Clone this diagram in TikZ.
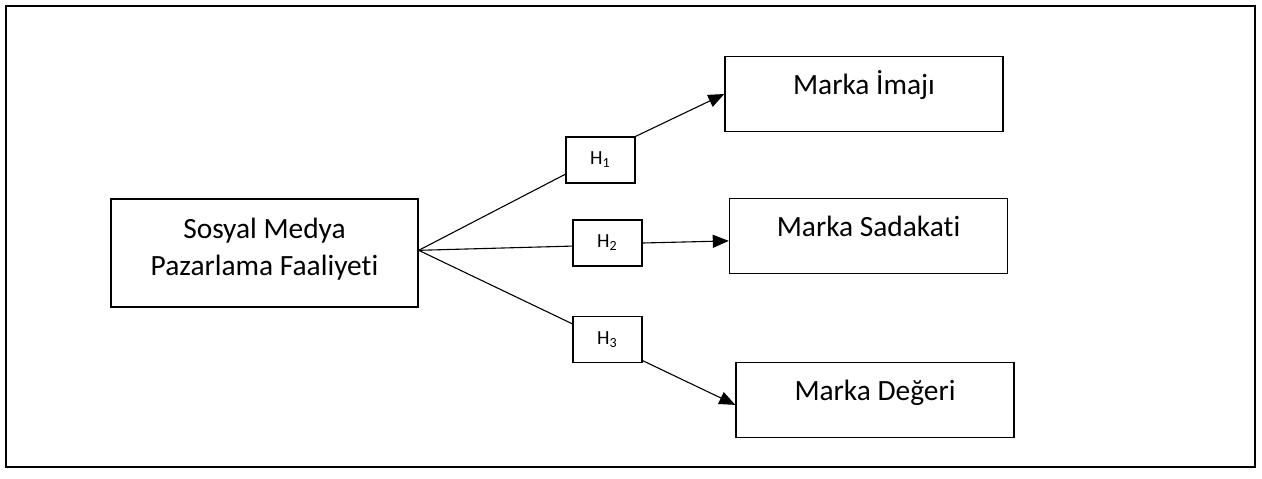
\documentclass[tikz,border=0pt]{standalone}
\usepackage{fontspec}
\setmainfont{Carlito}[Ligatures=NoCommon]
\usepackage{tikz}
\usetikzlibrary{arrows.meta,positioning}
\tikzset{
  flow/.style={-{Triangle[length=8pt,width=6.5pt]},line width=0.55pt,draw=black},
  wire/.style={line width=0.55pt,draw=black},
  factor/.style={draw=black,line width=0.7pt,align=center,minimum width=153.5pt,minimum height=54pt,inner sep=0pt,font=\fontsize{14.7}{18.5}\selectfont,text height=27pt,text depth=5pt},
  hyp/.style={draw=black,line width=0.65pt,minimum width=34.5pt,minimum height=23pt,inner sep=0pt,font=\fontsize{10}{12}\selectfont},
  outcome/.style={draw=black,line width=0.7pt,minimum width=139pt,minimum height=37.5pt,inner sep=0pt,font=\fontsize{14.7}{18}\selectfont,text height=10pt,text depth=10pt},
  frame/.style={draw=black,line width=1pt}
}
\begin{document}
\begin{tikzpicture}[x=0.5pt,y=-0.5pt]
  \useasboundingbox (0,0) rectangle (1262,478);
  \draw[frame] (6,6) rectangle (1255,467);
  \node[factor] (smm) at (264.5,253) {Sosyal Medya\\Pazarlama Faaliyeti};
  \node[hyp] (h1) at (600.5,160) {H\textsubscript{1}};
  \node[hyp] (h2) at (607.5,243) {H\textsubscript{2}};
  \node[hyp] (h3) at (607.5,339.5) {H\textsubscript{3}};
  \node[outcome] (image) at (864,94) {Marka İmajı};
  \node[outcome] (loyal) at (868.5,236) {Marka Sadakati};
  \node[outcome] (equity) at (875,400) {Marka Değeri};
  \coordinate (fork) at (smm.1.5);
  % hypotheses
  \draw[wire] (fork)--(h1.202); \draw[wire] (fork)--(h2.185); \draw[wire] (fork)--(h3.156);
  \draw[flow] (h1.north east)--(image.west); \draw[flow] (h2.east)--(loyal.182); \draw[flow] (h3.329)--(equity.182);
\end{tikzpicture}
\end{document}
